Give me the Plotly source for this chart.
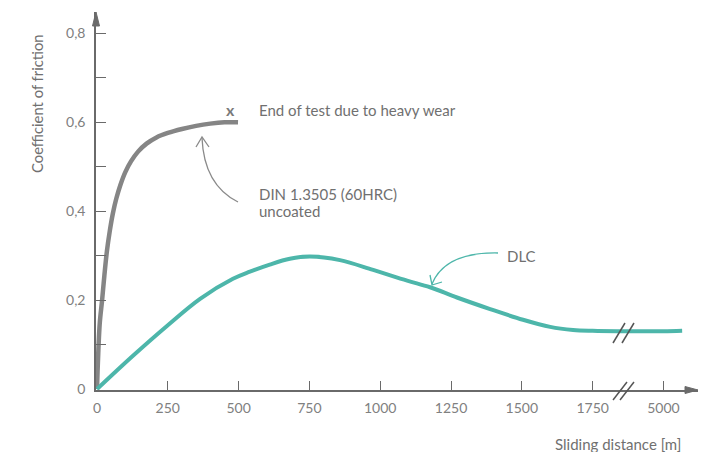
import plotly.graph_objects as go

# ---------------- data ----------------
uncoated_x = [0, 2, 5, 10, 18, 26, 35, 45, 56, 68, 82, 100, 120, 145, 175, 210, 250, 300, 350, 400, 450, 498]
uncoated_y = [0, 0.04, 0.09, 0.15, 0.2, 0.255, 0.31, 0.355, 0.395, 0.428, 0.458, 0.488, 0.512, 0.534,
              0.552, 0.566, 0.576, 0.585, 0.592, 0.597, 0.600, 0.600]

dlc_x = [0, 127, 247, 364, 480, 540, 610, 681, 752, 858, 975, 1095, 1176, 1271, 1388, 1504, 1600, 1681,
         1750, 1836, 4870, 5000, 5066]
dlc_y = [0, 0.075, 0.142, 0.203, 0.248, 0.264, 0.280, 0.293, 0.298, 0.290, 0.268, 0.244, 0.229, 0.206,
         0.180, 0.156, 0.140, 0.133, 0.131, 0.130, 0.130, 0.130, 0.131]

x_tick_vals = [0, 250, 500, 750, 1000, 1250, 1500, 1750, 5000]
x_tick_text = ["0", "250", "500", "750", "1000", "1250", "1500", "1750", "5000"]
y_tick_vals = [0, 0.1, 0.2, 0.3, 0.4, 0.5, 0.6, 0.7, 0.8]
y_tick_text = ["0", "", "0,2", "", "0,4", "", "0,6", "", "0,8"]

BREAK_FROM, BREAK_TO = 1857, 4857   # omitted interval of the x axis


def to_axis(v):
    """Map real sliding distance onto the broken axis."""
    return v if v <= BREAK_FROM else v - (BREAK_TO - BREAK_FROM)


# ---------------- layout geometry ----------------
OFF = 8                      # page body margin
W, H = 715 - OFF, 452 - OFF
ML, MT = 96 - OFF, 12 - OFF
PW, PH = 602, 378
MR, MB = W - ML - PW, H - MT - PH


def px(x):
    return (x - OFF - ML) / PW


def py(y):
    return (MT + PH - (y - OFF)) / PH


TEAL = "#4db6aa"
GRAY = "#858585"
AX = "#6a6a6a"
TXT = "#707070"
FONT = "Lato"

fig = go.Figure()
fig.add_trace(go.Scatter(x=[to_axis(v) for v in uncoated_x], y=uncoated_y, mode="lines",
                         line=dict(color=GRAY, width=4.5, shape="spline", smoothing=1.0),
                         hoverinfo="skip", showlegend=False))
fig.add_trace(go.Scatter(x=[to_axis(v) for v in dlc_x], y=dlc_y, mode="lines",
                         line=dict(color=TEAL, width=4, shape="spline", smoothing=1.0),
                         hoverinfo="skip", showlegend=False))

shapes = []
# axis arrowheads
shapes.append(dict(type="path", xref="paper", yref="paper",
                   path=f"M {px(685)} {py(386.5)} L {px(698)} {py(390)} L {px(685)} {py(393.5)} Z",
                   fillcolor=AX, line=dict(color=AX, width=1)))
shapes.append(dict(type="path", xref="paper", yref="paper",
                   path=f"M {px(92.5)} {py(26)} L {px(96)} {py(12)} L {px(99.5)} {py(26)} Z",
                   fillcolor=AX, line=dict(color=AX, width=1)))
# break marks on axis and on curve
for (x0, y0, x1, y1) in [(613, 400, 627, 382), (620, 400, 634, 382),
                         (613, 343, 625, 323), (622, 343, 634, 323)]:
    shapes.append(dict(type="line", xref="paper", yref="paper",
                       x0=px(x0), y0=py(y0), x1=px(x1), y1=py(y1),
                       line=dict(color="#555555", width=1.5)))
# gray curved arrow
shapes.append(dict(type="path", xref="paper", yref="paper",
                   path=f"M {px(238)} {py(202)} Q {px(204)} {py(185)} {px(202)} {py(138)}",
                   line=dict(color="#8a8a8a", width=1.3)))
shapes.append(dict(type="path", xref="paper", yref="paper",
                   path=f"M {px(196)} {py(147)} L {px(202)} {py(137)} L {px(209)} {py(147)}",
                   line=dict(color="#8a8a8a", width=1.3)))
# teal curved arrow
shapes.append(dict(type="path", xref="paper", yref="paper",
                   path=f"M {px(498)} {py(253)} Q {px(445)} {py(252)} {px(432)} {py(284)}",
                   line=dict(color=TEAL, width=1.3)))
shapes.append(dict(type="path", xref="paper", yref="paper",
                   path=f"M {px(430)} {py(275)} L {px(432)} {py(285)} L {px(442)} {py(282)}",
                   line=dict(color=TEAL, width=1.3)))

ann = []


def text(t, x, y, xa="left", ya="middle", size=15, color=TXT, angle=0):
    ann.append(dict(text=t, x=px(x), y=py(y), xref="paper", yref="paper", showarrow=False,
                    xanchor=xa, yanchor=ya, textangle=angle,
                    font=dict(family=FONT, size=size, color=color)))


text("<b>x</b>", 230, 109, xa="center", size=16, color="#7a7a7a")
text("End of test due to heavy wear", 257, 110)
text("DIN 1.3505 (60HRC)", 257, 194)
text("uncoated", 257, 211)
text("DLC", 505, 256)
text("Sliding distance [m]", 618, 444, xa="center")
text("Coefficient of friction", 37, 104, xa="center", angle=-90, size=14.8)

fig.update_layout(
    width=W, height=H, margin=dict(l=ML, r=MR, t=MT, b=MB),
    paper_bgcolor="white", plot_bgcolor="white",
    shapes=shapes, annotations=ann,
    font=dict(family=FONT, size=14, color="#808080"),
    xaxis=dict(range=[-3.5, 2122], showgrid=False, zeroline=False, showline=True,
               linecolor=AX, linewidth=1.5, ticks="inside", ticklen=9, tickwidth=1.2,
               tickcolor=AX, tickvals=[to_axis(v) for v in x_tick_vals], ticktext=x_tick_text,
               ticklabelstandoff=4),
    yaxis=dict(range=[-0.002, 0.848], showgrid=False, zeroline=False, showline=True,
               linecolor=AX, linewidth=1.5, ticks="inside", ticklen=10, tickwidth=1.2,
               tickcolor=AX, tickvals=y_tick_vals, ticktext=y_tick_text,
               ticklabelstandoff=6),
)

fig.write_html("out.html")
